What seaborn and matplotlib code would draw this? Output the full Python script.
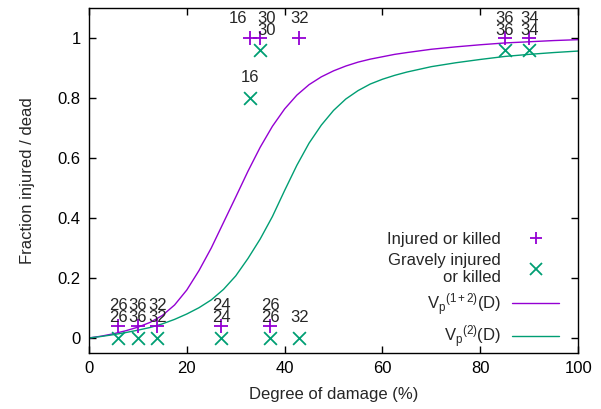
import matplotlib
matplotlib.use("Agg")
import matplotlib.pyplot as plt
import seaborn as sns
import pandas as pd

# measured points (degree of damage %, fraction) and the count shown above each
injured_x = [6, 10, 14, 27, 37, 33, 35, 43, 85, 90]
injured_y = [0.04, 0.04, 0.04, 0.04, 0.04, 1.0, 1.0, 1.0, 1.0, 1.0]
injured_n = [26, 36, 32, 24, 26, 16, 30, 32, 36, 34]

gravely_x = [6, 10, 14, 27, 37, 43, 33, 35, 85, 90]
gravely_y = [0.0, 0.0, 0.0, 0.0, 0.0, 0.0, 0.8, 0.96, 0.96, 0.96]
gravely_n = [26, 36, 32, 24, 26, 32, 16, 30, 36, 34]

# fitted curves
curve_d = [0, 2.5, 5, 7.5, 10, 12.5, 15, 17.5, 20, 22.5, 25, 27.5, 30, 32.5, 35,
           37.5, 40, 42.5, 45, 47.5, 50, 52.5, 55, 57.5, 60, 62.5, 65, 70, 75,
           80, 85, 90, 95, 100]
vp12 = [0.0, 0.006, 0.014, 0.024, 0.036, 0.052, 0.075, 0.11, 0.16, 0.225, 0.30,
        0.385, 0.47, 0.556, 0.636, 0.706, 0.764, 0.81, 0.845, 0.871, 0.891,
        0.907, 0.92, 0.93, 0.938, 0.946, 0.952, 0.963, 0.971, 0.978, 0.984,
        0.988, 0.992, 0.995]
vp2 = [0.0, 0.005, 0.011, 0.018, 0.026, 0.035, 0.047, 0.062, 0.08, 0.101,
       0.127, 0.162, 0.207, 0.265, 0.33, 0.405, 0.492, 0.576, 0.65, 0.71,
       0.759, 0.797, 0.825, 0.847, 0.863, 0.876, 0.887, 0.905, 0.918, 0.929,
       0.939, 0.946, 0.952, 0.957]

purple = "#9400D3"
green = "#009E73"

sns.set_theme(style="ticks")
plt.rcParams["font.family"] = ["Liberation Sans", "DejaVu Sans"]
plt.rcParams["mathtext.fontset"] = "custom"
plt.rcParams["mathtext.rm"] = "Liberation Sans"
plt.rcParams["mathtext.it"] = "Liberation Sans"

fig = plt.figure(figsize=(6.01, 4.09), dpi=100)
ax = fig.add_axes([0.148, 0.137, 0.814, 0.843])

curves = pd.DataFrame({"D": curve_d, "v12": vp12, "v2": vp2})

sns.scatterplot(x=injured_x, y=injured_y, marker="+", s=100, color=purple,
                linewidth=1.3, ax=ax, zorder=3)
sns.scatterplot(x=gravely_x, y=gravely_y, marker="x", s=85, color=green,
                linewidth=1.3, ax=ax, zorder=3)
sns.lineplot(data=curves, x="D", y="v12", color=purple, linewidth=1.0, ax=ax)
sns.lineplot(data=curves, x="D", y="v2", color=green, linewidth=1.0, ax=ax)

# small nudges so overlapping labels stay readable
inj_dx = {5: -2.5, 6: 1.3}
grav_dx = {7: 1.4}
for i, (x, y, n) in enumerate(zip(injured_x, injured_y, injured_n)):
    ax.annotate(str(n), (x + inj_dx.get(i, 0), y), xytext=(0, 14.5),
                textcoords="offset points", ha="center", va="center", fontsize=12)
for i, (x, y, n) in enumerate(zip(gravely_x, gravely_y, gravely_n)):
    ax.annotate(str(n), (x + grav_dx.get(i, 0), y), xytext=(0, 14.5),
                textcoords="offset points", ha="center", va="center", fontsize=12)

ax.set_xlim(0, 100)
ax.set_ylim(-0.05, 1.1)
ax.set_xticks([0, 20, 40, 60, 80, 100])
ax.set_yticks([0, 0.2, 0.4, 0.6, 0.8, 1.0])
ax.set_yticklabels(["0", "0.2", "0.4", "0.6", "0.8", "1"])
ax.tick_params(direction="in", length=5, width=1, top=True, right=True,
               labelsize=12, colors="black", pad=6)
for s in ax.spines.values():
    s.set_linewidth(1.0)
    s.set_color("black")
ax.set_xlabel("Degree of damage (%)", fontsize=12, labelpad=8)
ax.set_ylabel("Fraction injured / dead", fontsize=12, labelpad=16)

h = [
    plt.Line2D([], [], marker="+", ls="none", color=purple, ms=9, mew=1.3),
    plt.Line2D([], [], marker="x", ls="none", color=green, ms=8, mew=1.3),
    plt.Line2D([], [], color=purple, lw=1.0),
    plt.Line2D([], [], color=green, lw=1.0),
]
labels = ["Injured or killed", "Gravely injured\nor killed",
          r"$\mathregular{V_p{}^{(1+2)}(D)}$", r"$\mathregular{V_p{}^{(2)}(D)}$"]
leg = ax.legend(h, labels, loc="lower right", bbox_to_anchor=(0.985, -0.025),
                frameon=False, markerfirst=False, fontsize=12, handlelength=2.8,
                handletextpad=0.7, labelspacing=0.35, borderaxespad=0.3)
for t in leg.get_texts():
    t.set_multialignment("right")

fig.savefig("out.png", dpi=100)
